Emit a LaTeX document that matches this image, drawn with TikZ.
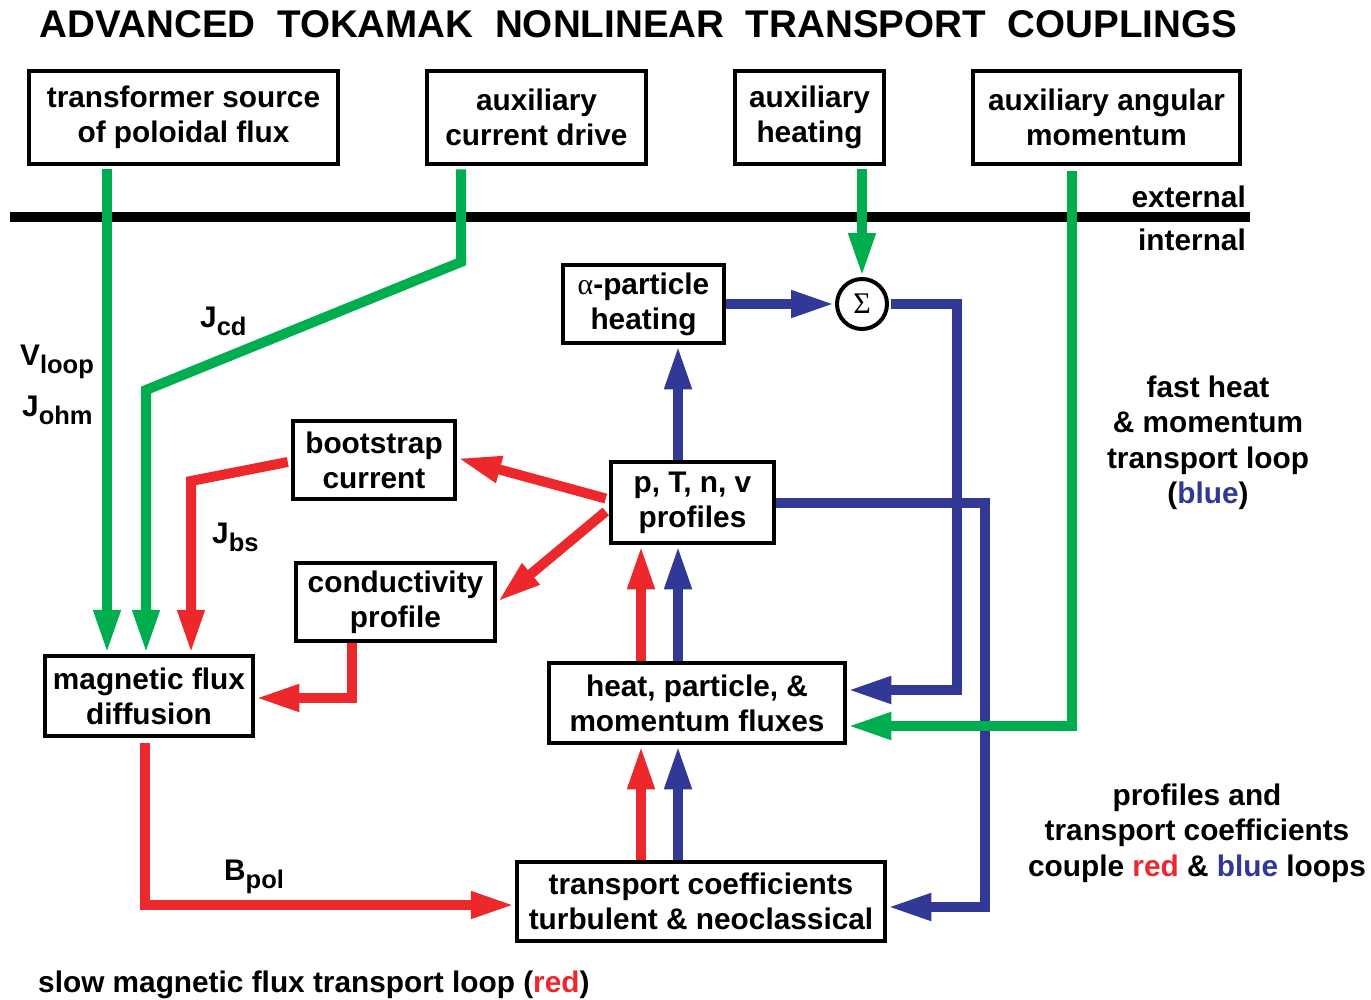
\documentclass[tikz,border=0pt]{standalone}
\usepackage{fontspec}
\setmainfont{Liberation Sans}
\newfontfamily\greekserif{Liberation Serif}
\usetikzlibrary{arrows.meta,calc}
\definecolor{gr}{RGB}{0,174,80}
\definecolor{rd}{RGB}{236,40,45}
\definecolor{bl}{RGB}{50,56,150}
\newcommand\subtx[1]{\raisebox{-8pt}{\fontsize{25.5}{25.5}\selectfont #1}}
\begin{document}
\begin{tikzpicture}[x=1pt,y=-1pt,
  box/.style={draw=black, line width=4.5pt, fill=white, align=center, inner sep=0pt,
    font=\fontsize{29.8}{35}\selectfont\bfseries},
  txt/.style={align=center, inner sep=0pt, font=\fontsize{29.8}{35.5}\selectfont\bfseries},
  conn/.style={line width=10pt, -{Triangle[length=44pt,width=25pt]}},
  garr/.style={conn, draw=gr},
  rarr/.style={conn, draw=rd},
  barr/.style={conn, draw=bl}]
\fill[white] (0,0) rectangle (1371,999);
\useasboundingbox (0,0) rectangle (1371,999);

% title
\node[txt, font=\fontsize{38.6}{40}\selectfont\bfseries, anchor=base] (title) at (638.5,37)
  {ADVANCED\ \ TOKAMAK\ \ NONLINEAR\ \ TRANSPORT\ \ COUPLINGS};

% external / internal separator
\coordinate (sepL) at (10,217);
\coordinate (sepR) at (1250,217);
\draw[line width=10pt] (sepL) -- (sepR);
\node[txt, anchor=base east] (ext) at (1246,207) {external};
\node[txt, anchor=base east] (int) at (1246,250) {internal};

% boxes
\node[box, minimum width=309pt, minimum height=93pt] (trans) at (183.5,117.5) {transformer source\\of poloidal flux};
\node[box, minimum width=219pt, minimum height=93pt] (acd) at (536.5,117.5) {auxiliary\\current drive};
\node[box, minimum width=149pt, minimum height=93pt] (ah) at (809.5,117.5) {auxiliary\\heating};
\node[box, minimum width=267pt, minimum height=93pt] (aam) at (1106.5,117.5) {auxiliary angular\\momentum};
\node[box, minimum width=161pt, minimum height=78pt] (alpha) at (643.5,304) {{\greekserif\mdseries α}-particle\\heating};
\node[box, minimum width=162pt, minimum height=78pt] (boot) at (374,460) {bootstrap\\current};
\node[box, minimum width=163pt, minimum height=81pt] (prof) at (692.5,502.5) {p, T, n, v\\profiles};
\node[box, minimum width=199pt, minimum height=78pt] (cond) at (395.5,602) {conductivity\\profile};
\node[box, minimum width=208pt, minimum height=80pt] (mag) at (149,696) {magnetic flux\\diffusion};
\node[box, minimum width=296pt, minimum height=80pt] (flux) at (697,703) {heat, particle, \&\\momentum fluxes};
\node[box, minimum width=368pt, minimum height=79pt] (tc) at (701,901.5) {transport coefficients\\turbulent \& neoclassical};
\node[circle, draw=black, line width=4pt, fill=white, minimum size=50pt, inner sep=0pt,
  font=\fontsize{30}{30}\selectfont\greekserif] (sig) at (862,304) {Σ};

% bend points
\coordinate (gA) at (107,0);
\coordinate (g1) at (461,262);
\coordinate (g2) at (146,390);
\coordinate (g3) at (1072,726);
\coordinate (b1) at (957,304);
\coordinate (b2) at (957,690);
\coordinate (b3) at (985,503);
\coordinate (b4) at (985,907);
\coordinate (bx) at (678,0);
\coordinate (rx) at (641,0);
\coordinate (r1) at (191,481);
\coordinate (r2) at (352,698);
\coordinate (r3) at (145,905);

% blue loop
\draw[barr] (alpha.east) -- (sig.west);
\draw[barr] ($(sig.east)+(2,0)$) -- (b1) -- (b2) -- (flux.east |- b2);
\draw[barr] (prof.east |- b3) -- (b3) -- (b4) -- (tc.east |- b4);
\draw[barr] (prof.north -| bx) -- (alpha.south -| bx);
\draw[barr] (tc.north -| bx) -- (flux.south -| bx);
\draw[barr] (flux.north -| bx) -- (prof.south -| bx);

% red loop
\draw[rarr] (tc.north -| rx) -- (flux.south -| rx);
\draw[rarr] (flux.north -| rx) -- (prof.south -| rx);
\draw[rarr] ($(prof.west)+(-3,-4)$) -- ($(boot.east)+(0,-2)$);
\draw[rarr] ($(prof.west)+(-3,9)$) -- (cond.east);
\draw[rarr] ($(boot.west)+(-3,2)$) -- (r1) -- (mag.north -| r1);
\draw[rarr] (cond.south -| r2) -- (r2) -- (mag.east |- r2);
\draw[rarr] ($(mag.south -| r3)+(0,5)$) -- (r3) -- (tc.west |- r3);

% green external inputs
\draw[garr] ($(trans.south -| gA)+(0,3)$) -- (mag.north -| gA);
\draw[garr] ($(acd.south -| g1)+(0,3)$) -- (g1) -- (g2) -- (mag.north -| g2);
\draw[garr] ($(ah.south -| sig)+(0,3)$) -- (sig.north);
\draw[garr] ($(aam.south -| g3)+(0,5)$) -- (g3) -- (flux.east |- g3);

% labels
\node[txt, anchor=base west] (vloop) at (20,365) {V\subtx{loop}};
\node[txt, anchor=base west] (johm) at (22,416) {J\subtx{ohm}};
\node[txt, anchor=base west] (jcd) at (200,327) {J\subtx{cd}};
\node[txt, anchor=base west] (jbs) at (212,543) {J\subtx{bs}};
\node[txt, anchor=base west] (bpol) at (224,880) {B\subtx{pol}};

\node[txt] (fast) at (1208,443) {fast heat\\\& momentum\\transport loop\\(\textcolor{bl}{blue})};
\node[txt] (couple) at (1197,833) {profiles and\\transport coefficients\\couple \textcolor{rd}{red} \& \textcolor{bl}{blue} loops};
\node[txt, anchor=base west] (slow) at (38,992) {slow magnetic flux transport loop (\textcolor{rd}{red})};
\end{tikzpicture}
\end{document}
